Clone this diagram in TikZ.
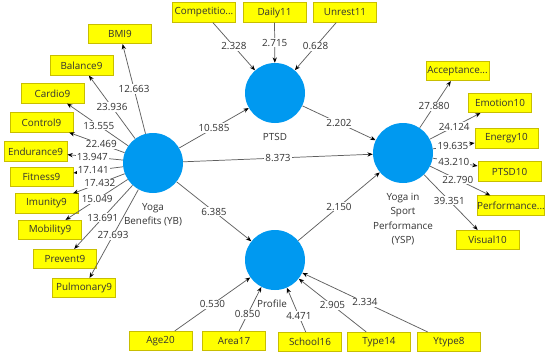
\documentclass[tikz,border=0pt]{standalone}
\usepackage{fontspec}
\setmainfont{Open Sans}
\usetikzlibrary{arrows.meta}
\definecolor{circ}{RGB}{0,153,240}
\definecolor{boxfill}{RGB}{255,255,0}
\definecolor{boxline}{RGB}{200,190,0}
\definecolor{txt}{RGB}{50,50,50}
\definecolor{edgec}{RGB}{95,95,95}
\begin{document}
\begin{tikzpicture}[x=0.75pt,y=-0.75pt,
  font=\fontsize{7.4}{8.8}\selectfont, text=txt,
  lv/.style={circle, fill=circ, draw=none, minimum size=45pt, inner sep=0pt},
  ind/.style={rectangle, fill=boxfill, draw=boxline, line width=0.6pt, minimum width=47.25pt, minimum height=14.5pt, inner sep=0pt},
  conn/.style={draw=edgec, line width=0.55pt, -{Stealth[length=4pt,width=3.2pt,color=black]}},
  lbl/.style={fill=white, inner sep=0.8pt, pos=0.5},
  lvcap/.style={align=center, font=\fontsize{7.4}{10.8}\selectfont}
]
\useasboundingbox (0,0) rectangle (550,355);
\fill[white] (0,0) rectangle (550,355);

% latent variables
\node[lv] (YB) at (153,163) {};
\node[lv] (PTSD) at (275,93) {};
\node[lv] (YSP) at (403,153) {};
\node[lv] (PRO) at (275,260) {};

\node[lvcap] (cYB) at (153,215) {Yoga\\Benefits (YB)};
\node[lvcap] (cPTSD) at (275,137) {PTSD};
\node[lvcap] (cYSP) at (403,219) {Yoga in\\Sport\\Performance\\(YSP)};
\node[lvcap] (cPRO) at (272,304) {Profile};

% YB indicators
\node[ind] (BMI9) at (120,34) {BMI9};
\node[ind] (Balance9) at (81.5,65.5) {Balance9};
\node[ind] (Cardio9) at (52.5,93.5) {Cardio9};
\node[ind] (Control9) at (41.5,122.5) {Control9};
\node[ind] (Endurance9) at (35.5,151.5) {Endurance9};
\node[ind] (Fitness9) at (41.5,177) {Fitness9};
\node[ind] (Imunity9) at (46.5,203.5) {Imunity9};
\node[ind] (Mobility9) at (50,230) {Mobility9};
\node[ind] (Prevent9) at (65,259) {Prevent9};
\node[ind] (Pulmonary9) at (84,288) {Pulmonary9};

% PTSD indicators
\node[ind] (Comp11) at (204,12.5) {Competitio...};
\node[ind] (Daily11) at (274.5,12.5) {Daily11};
\node[ind] (Unrest11) at (345,12.5) {Unrest11};

% YSP indicators
\node[ind] (Acc10) at (457.5,71) {Acceptance...};
\node[ind] (Emotion10) at (500,103) {Emotion10};
\node[ind] (Energy10) at (506.5,138.5) {Energy10};
\node[ind] (PTSD10) at (509.5,171.5) {PTSD10};
\node[ind] (Perf10) at (511,205.5) {Performance...};
\node[ind] (Visual10) at (487.5,240) {Visual10};

% Profile indicators
\node[ind] (Age20) at (160.5,341) {Age20};
\node[ind] (Area17) at (234,341) {Area17};
\node[ind] (School16) at (310,342) {School16};
\node[ind] (Type14) at (379,342) {Type14};
\node[ind] (Ytype8) at (449,342) {Ytype8};

% YB outer loadings
\draw[conn] (YB) -- (BMI9) node[lbl,pos=0.5] {12.663};
\draw[conn] (YB) -- (Balance9) node[lbl,pos=0.5] {23.936};
\draw[conn] (YB) -- (Cardio9) node[lbl,pos=0.48] {13.555};
\draw[conn] (YB) -- (Control9) node[lbl,pos=0.42] {22.469};
\draw[conn] (YB) -- (Endurance9) node[lbl,pos=0.55] {13.947};
\draw[conn] (YB) -- (Fitness9) node[lbl,pos=0.6] {17.141};
\draw[conn] (YB) -- (Imunity9) node[lbl,pos=0.48] {17.432};
\draw[conn] (YB) -- (Mobility9) node[lbl,pos=0.49] {15.049};
\draw[conn] (YB) -- (Prevent9) node[lbl,pos=0.51] {13.691};
\draw[conn] (YB) -- (Pulmonary9) node[lbl,pos=0.52] {27.693};

% PTSD outer weights
\draw[conn] (Comp11) -- (PTSD) node[lbl] {2.328};
\draw[conn] (Daily11) -- (PTSD) node[lbl] {2.715};
\draw[conn] (Unrest11) -- (PTSD) node[lbl] {0.628};

% YSP outer loadings
\draw[conn] (YSP) -- (Acc10) node[lbl,pos=0.46] {27.880};
\draw[conn] (YSP) -- (Emotion10) node[lbl,pos=0.48] {24.124};
\draw[conn] (YSP) -- (Energy10) node[lbl,pos=0.48] {19.635};
\draw[conn] (YSP) -- (PTSD10) node[lbl,pos=0.47] {43.210};
\draw[conn] (YSP) -- (Perf10) node[lbl,pos=0.46] {22.790};
\draw[conn] (YSP) -- (Visual10) node[lbl,pos=0.47] {39.351};

% Profile outer weights
\draw[conn] (Age20) -- (PRO) node[lbl] {0.530};
\draw[conn] (Area17) -- (PRO) node[lbl,pos=0.38] {0.850};
\draw[conn] (School16) -- (PRO) node[lbl,pos=0.36] {4.471};
\draw[conn] (Type14) -- (PRO) node[lbl] {2.905};
\draw[conn] (Ytype8) -- (PRO) node[lbl] {2.334};

% structural paths
\draw[conn] (YB) -- (PTSD) node[lbl] {10.585};
\draw[conn] (PTSD) -- (YSP) node[lbl] {2.202};
\draw[conn] (YB) -- (YSP) node[lbl] {8.373};
\draw[conn] (YB) -- (PRO) node[lbl] {6.385};
\draw[conn] (PRO) -- (YSP) node[lbl] {2.150};
\end{tikzpicture}
\end{document}
